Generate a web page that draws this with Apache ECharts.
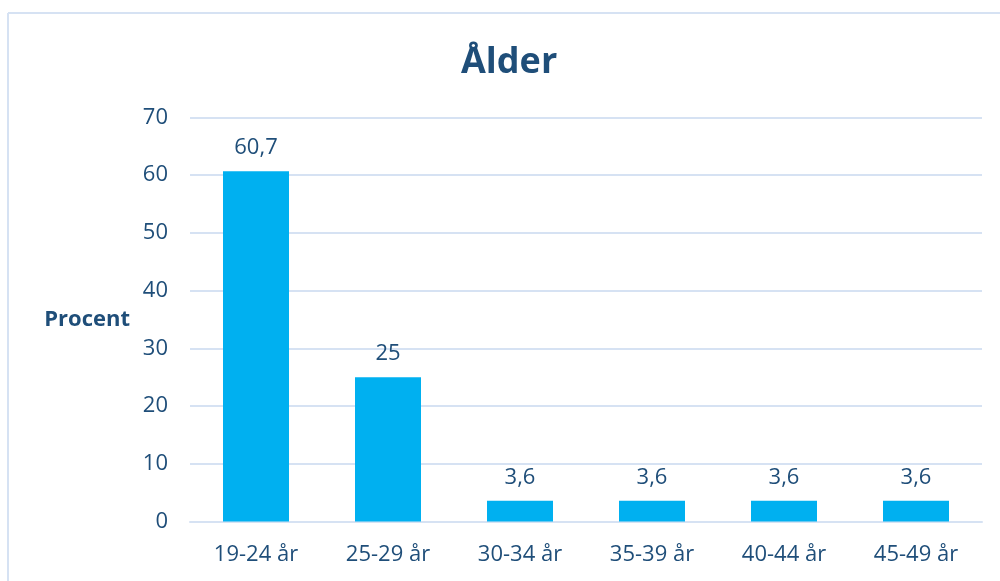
<!DOCTYPE html>
<html>
<head>
<meta charset="utf-8">
<script src="https://cdn.jsdelivr.net/npm/echarts@6/dist/echarts.min.js"></script>
<style>
  html, body { margin: 0; padding: 0; background: #fff; }
  #chart { width: 1000px; height: 581px; }
</style>
</head>
<body>
<div id="chart"></div>
<script>
// age groups and share of respondents (%)
const categories = ['19-24 år', '25-29 år', '30-34 år', '35-39 år', '40-44 år', '45-49 år'];
const percentValues = [60.7, 25, 3.6, 3.6, 3.6, 3.6];
const textColor = '#1F4E79';
const gridColor = '#D6E2F3';

const myChart = echarts.init(document.getElementById('chart'));

const option = {
  animation: false,
  title: {
    text: 'Ålder',
    left: 456,
    top: 40,
    textStyle: { color: textColor, fontSize: 36, fontWeight: 'bold', fontFamily: 'Open Sans' }
  },
  grid: { left: 190, right: 18, top: 117.5, bottom: 59.5 },
  graphic: [
    { type: 'line', shape: { x1: 8, y1: 13, x2: 1000, y2: 13 }, style: { stroke: gridColor, lineWidth: 2 } },
    { type: 'line', shape: { x1: 8, y1: 13, x2: 8, y2: 581 }, style: { stroke: gridColor, lineWidth: 2 } }
  ],
  xAxis: {
    type: 'category',
    data: categories,
    axisLine: { lineStyle: { color: gridColor, width: 2 } },
    axisTick: { show: false },
    axisLabel: { color: textColor, fontSize: 22, margin: 22, fontFamily: 'Open Sans' }
  },
  yAxis: {
    type: 'value',
    min: 0,
    max: 70,
    interval: 10,
    name: 'Procent',
    nameLocation: 'middle',
    nameRotate: 0,
    nameGap: 60,
    nameTextStyle: { color: textColor, fontSize: 22, fontWeight: 'bold', fontFamily: 'Open Sans', align: 'right' },
    axisLine: { show: false },
    axisTick: { show: false },
    splitLine: { lineStyle: { color: gridColor, width: 2 } },
    axisLabel: { color: textColor, fontSize: 22, margin: 22, fontFamily: 'Open Sans' }
  },
  series: [
    {
      type: 'bar',
      data: percentValues,
      barWidth: '50%',
      itemStyle: { color: '#00B0F0' },
      label: {
        show: true,
        position: 'top',
        distance: 12,
        color: textColor,
        fontSize: 22,
        fontFamily: 'Open Sans',
        formatter: p => String(p.value).replace('.', ',')
      }
    }
  ]
};

myChart.setOption(option);
</script>
</body>
</html>
